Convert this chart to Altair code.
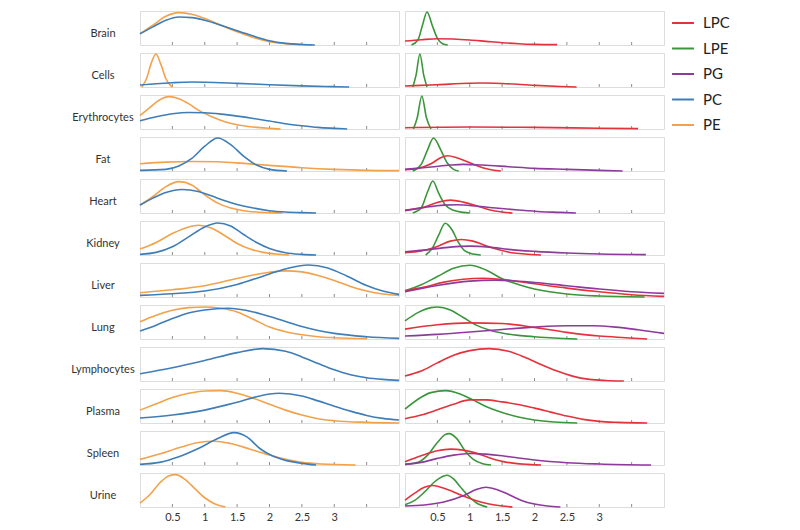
import altair as alt
import pandas as pd

tissues = ["Brain", "Cells", "Erythrocytes", "Fat", "Heart", "Kidney",
           "Liver", "Lung", "Lymphocytes", "Plasma", "Spleen", "Urine"]
lipids = ["LPC", "LPE", "PG", "PC", "PE"]
lipid_colors = ["#e3323c", "#3b963b", "#8e3a9c", "#3f7db8", "#f2a24a"]
tick_values = [0.5, 1, 1.5, 2, 2.5, 3, 3.5]

# ---- left column (PC / PE) : (x, relative density) ----
brain_pe = [(0, .34), (.2, .6), (.4, .87), (.6, .98), (.8, .93), (1.0, .8), (1.25, .6), (1.5, .4), (1.75, .23), (2.0, .1), (2.25, .04), (2.5, .01), (2.66, 0)]
brain_pc = [(0, .34), (.2, .55), (.4, .75), (.6, .85), (.8, .83), (1.0, .75), (1.25, .6), (1.5, .43), (1.75, .27), (2.0, .13), (2.25, .05), (2.5, .015), (2.7, 0)]
cells_pe = [(.03, 0), (.1, .25), (.17, .7), (.245, 1.0), (.32, .7), (.4, .25), (.47, .05), (.5, 0)]
cells_pc = [(0, .06), (.25, .1), (.5, .13), (.8, .15), (1.0, .145), (1.5, .11), (2.0, .07), (2.5, .035), (3.0, .01), (3.23, 0)]
ery_pe = [(0, .41), (.15, .65), (.3, .88), (.45, .98), (.6, .92), (.75, .77), (.9, .57), (1.1, .38), (1.3, .23), (1.5, .13), (1.75, .06), (2.0, .02), (2.17, 0)]
ery_pc = [(0, .25), (.25, .37), (.5, .46), (.75, .5), (1.0, .49), (1.25, .45), (1.5, .39), (1.75, .32), (2.0, .24), (2.25, .16), (2.5, .1), (2.75, .05), (3.0, .02), (3.2, 0)]
fat_pc = [(0, .02), (.4, .05), (.6, .15), (.8, .38), (1.0, .75), (1.2, 1.0), (1.4, .8), (1.6, .45), (1.8, .18), (2.0, .05), (2.27, 0)]
fat_pe = [(0, .22), (.4, .27), (.8, .29), (1.2, .28), (1.6, .23), (2.0, .17), (2.5, .1), (3.0, .05), (3.5, .02), (4.0, .01)]
heart_pe = [(0, .24), (.2, .5), (.4, .8), (.6, .95), (.8, .85), (1.0, .55), (1.2, .3), (1.4, .15), (1.6, .07), (1.8, .03), (2.0, .01), (2.2, 0)]
heart_pc = [(0, .24), (.2, .45), (.4, .62), (.65, .71), (.9, .65), (1.1, .52), (1.3, .38), (1.5, .26), (1.75, .15), (2.0, .07), (2.25, .03), (2.5, .01), (2.72, 0)]
kidney_pe = [(0, .18), (.25, .38), (.5, .65), (.75, .85), (.9, .9), (1.1, .82), (1.3, .6), (1.5, .35), (1.7, .18), (1.9, .08), (2.1, .03), (2.3, 0)]
kidney_pc = [(0, .02), (.25, .08), (.5, .25), (.75, .55), (1.0, .85), (1.2, .97), (1.4, .88), (1.6, .62), (1.8, .38), (2.0, .2), (2.25, .07), (2.5, .02), (2.72, 0)]
liver_pc = [(0, .05), (.5, .1), (1.0, .18), (1.5, .38), (2.0, .7), (2.3, .88), (2.6, .97), (2.9, .88), (3.2, .63), (3.5, .35), (3.75, .18), (4.0, .08)]
liver_pe = [(0, .13), (.5, .22), (1.0, .34), (1.5, .56), (2.0, .75), (2.25, .79), (2.5, .76), (2.75, .65), (3.0, .5), (3.25, .32), (3.5, .18), (3.75, .09), (4.0, .05)]
lung_pe = [(0, .52), (.25, .72), (.5, .87), (.75, .95), (1.0, .97), (1.25, .93), (1.5, .82), (1.75, .6), (2.0, .36), (2.25, .22), (2.5, .13), (2.75, .07), (3.0, .04), (3.5, .01)]
lung_pc = [(0, .24), (.25, .42), (.5, .62), (.75, .79), (1.0, .88), (1.35, .93), (1.75, .82), (2.0, .68), (2.25, .53), (2.5, .38), (2.75, .26), (3.0, .17), (3.5, .07), (4.0, .02)]
lymph_pc = [(0, .22), (.5, .4), (1.0, .62), (1.5, .86), (1.9, .98), (2.25, .9), (2.5, .73), (2.75, .53), (3.0, .34), (3.25, .19), (3.5, .1), (3.75, .05), (4.0, .02)]
plasma_pe = [(0, .39), (.25, .58), (.5, .77), (.75, .9), (1.0, .97), (1.25, .98), (1.5, .9), (1.75, .75), (2.0, .57), (2.25, .39), (2.5, .24), (2.75, .13), (3.0, .07), (3.5, .02), (4.0, 0)]
plasma_pc = [(0, .15), (.5, .24), (1.0, .39), (1.5, .63), (2.0, .88), (2.15, .9), (2.5, .82), (2.75, .67), (3.0, .51), (3.25, .36), (3.5, .23), (3.75, .14), (4.0, .09)]
spleen_pc = [(0, .02), (.3, .08), (.6, .25), (.9, .5), (1.2, .8), (1.45, .98), (1.65, .85), (1.85, .5), (2.05, .27), (2.25, .14), (2.5, .05), (2.72, 0)]
spleen_pe = [(0, .17), (.3, .33), (.6, .52), (.9, .68), (1.15, .72), (1.4, .65), (1.7, .48), (2.0, .3), (2.25, .17), (2.5, .08), (2.8, .03), (3.33, 0)]
urine_pe = [(0, .12), (.15, .37), (.3, .72), (.45, .95), (.55, .98), (.7, .83), (.85, .55), (1.0, .28), (1.15, .1), (1.32, 0)]

# ---- right column (LPC / LPE / PG) ----
brain_lpe = [(.1, 0), (.2, .15), (.27, .6), (.34, 1.0), (.42, .6), (.5, .2), (.58, .04), (.66, 0)]
brain_lpc = [(0, .12), (.25, .16), (.5, .19), (.75, .18), (1.0, .15), (1.25, .11), (1.5, .07), (1.75, .04), (2.0, .02), (2.35, .01)]
cells_lpe = [(.12, 0), (.17, .35), (.23, 1.0), (.29, .35), (.34, 0)]
cells_lpc = [(0, .03), (.5, .07), (1.0, .115), (1.2, .12), (1.5, .105), (2.0, .05), (2.4, .015), (2.65, 0)]
ery_lpe = [(.13, 0), (.19, .35), (.26, 1.0), (.33, .35), (.4, 0)]
ery_lpc = [(0, .04), (1.0, .06), (2.0, .05), (3.0, .025), (3.6, .01)]
fat_lpe = [(.12, 0), (.25, .2), (.35, .65), (.44, 1.0), (.55, .65), (.65, .25), (.75, .05), (.83, 0)]
fat_lpc = [(0, .04), (.2, .08), (.4, .22), (.55, .4), (.66, .46), (.8, .4), (1.0, .25), (1.2, .1), (1.35, .03), (1.48, 0)]
fat_pg = [(0, .05), (.4, .12), (.7, .18), (.9, .2), (1.2, .18), (1.6, .13), (2.0, .08), (2.5, .05), (3.0, .02), (3.36, 0)]
heart_lpe = [(.12, 0), (.25, .15), (.35, .65), (.43, .97), (.52, .6), (.62, .25), (.75, .08), (.9, .02), (1.0, 0)]
heart_lpc = [(0, .09), (.25, .15), (.5, .32), (.7, .39), (.9, .33), (1.1, .22), (1.3, .1), (1.5, .03), (1.66, 0)]
heart_pg = [(0, .07), (.3, .17), (.6, .24), (.8, .25), (1.1, .21), (1.4, .15), (1.75, .09), (2.1, .04), (2.4, .02), (2.64, 0)]
kidney_lpe = [(.32, 0), (.42, .2), (.52, .6), (.62, .96), (.72, .78), (.82, .4), (.92, .13), (1.05, .03), (1.17, 0)]
kidney_lpc = [(0, .07), (.25, .12), (.5, .26), (.7, .42), (.87, .47), (1.05, .42), (1.25, .28), (1.45, .16), (1.65, .07), (1.85, .03), (2.1, 0)]
kidney_pg = [(0, .1), (.4, .17), (.7, .24), (1.0, .27), (1.3, .24), (1.6, .17), (2.0, .11), (2.5, .06), (3.0, .03), (3.72, .01)]
liver_lpe = [(0, .19), (.25, .37), (.5, .62), (.75, .87), (1.0, .96), (1.25, .82), (1.5, .55), (1.75, .38), (2.0, .24), (2.5, .09), (3.0, .03), (3.7, 0)]
liver_lpc = [(0, .19), (.3, .3), (.6, .45), (.9, .54), (1.2, .57), (1.5, .53), (2.0, .4), (2.5, .27), (3.0, .16), (3.5, .07), (4.0, .02)]
liver_pg = [(0, .16), (.5, .35), (1.0, .48), (1.4, .51), (2.0, .44), (2.5, .34), (3.0, .24), (3.5, .16), (4.0, .11)]
lung_lpe = [(0, .55), (.2, .8), (.4, .95), (.5, .97), (.7, .88), (.9, .65), (1.1, .42), (1.3, .27), (1.5, .18), (1.75, .11), (2.0, .07), (2.3, .03), (2.66, 0)]
lung_lpc = [(0, .3), (.5, .43), (1.0, .49), (1.5, .47), (2.0, .35), (2.5, .2), (3.0, .09), (3.4, .04), (3.74, 0)]
lung_pg = [(0, .09), (.5, .14), (1.0, .21), (1.5, .29), (2.0, .36), (2.5, .4), (2.9, .4), (3.25, .36), (3.6, .28), (4.0, .17)]
lymph_lpc = [(0, .15), (.25, .3), (.5, .55), (.75, .78), (1.0, .92), (1.3, .98), (1.6, .9), (1.85, .72), (2.1, .5), (2.35, .3), (2.6, .14), (2.85, .05), (3.1, .015), (3.38, 0)]
plasma_lpe = [(0, .42), (.2, .72), (.4, .92), (.63, .98), (.85, .88), (1.05, .7), (1.25, .5), (1.5, .32), (1.75, .18), (2.0, .09), (2.3, .03), (2.66, 0)]
plasma_lpc = [(0, .13), (.25, .24), (.5, .4), (.75, .57), (1.0, .7), (1.25, .7), (1.5, .64), (1.75, .56), (2.0, .45), (2.25, .33), (2.5, .21), (2.75, .11), (3.0, .05), (3.3, .02), (3.74, 0)]
spleen_lpe = [(0, .02), (.2, .08), (.35, .3), (.5, .68), (.62, .92), (.68, .95), (.8, .8), (.92, .45), (1.05, .18), (1.2, .04), (1.33, 0)]
spleen_lpc = [(0, .1), (.25, .28), (.5, .43), (.7, .48), (.9, .45), (1.1, .36), (1.3, .22), (1.5, .11), (1.7, .05), (1.9, .02), (2.1, 0)]
spleen_pg = [(0, .02), (.25, .08), (.5, .2), (.75, .3), (1.0, .35), (1.25, .33), (1.5, .28), (1.75, .21), (2.0, .15), (2.5, .07), (3.0, .03), (3.8, 0)]
urine_lpe = [(0, .07), (.15, .2), (.3, .45), (.45, .75), (.6, .94), (.65, .96), (.75, .85), (.85, .62), (.97, .35), (1.1, .13), (1.27, 0)]
urine_lpc = [(0, .21), (.15, .42), (.3, .6), (.42, .65), (.55, .6), (.7, .5), (.9, .33), (1.1, .19), (1.3, .09), (1.5, .03), (1.66, 0)]
urine_pg = [(0, .03), (.3, .06), (.6, .15), (.9, .34), (1.1, .53), (1.25, .6), (1.4, .54), (1.6, .38), (1.8, .2), (2.0, .09), (2.2, .03), (2.4, 0)]

curves = [
    ("Brain", "PE", brain_pe), ("Brain", "PC", brain_pc), ("Brain", "LPE", brain_lpe), ("Brain", "LPC", brain_lpc),
    ("Cells", "PE", cells_pe), ("Cells", "PC", cells_pc), ("Cells", "LPE", cells_lpe), ("Cells", "LPC", cells_lpc),
    ("Erythrocytes", "PE", ery_pe), ("Erythrocytes", "PC", ery_pc), ("Erythrocytes", "LPE", ery_lpe), ("Erythrocytes", "LPC", ery_lpc),
    ("Fat", "PE", fat_pe), ("Fat", "PC", fat_pc), ("Fat", "LPE", fat_lpe), ("Fat", "LPC", fat_lpc), ("Fat", "PG", fat_pg),
    ("Heart", "PE", heart_pe), ("Heart", "PC", heart_pc), ("Heart", "LPE", heart_lpe), ("Heart", "LPC", heart_lpc), ("Heart", "PG", heart_pg),
    ("Kidney", "PE", kidney_pe), ("Kidney", "PC", kidney_pc), ("Kidney", "LPE", kidney_lpe), ("Kidney", "LPC", kidney_lpc), ("Kidney", "PG", kidney_pg),
    ("Liver", "PE", liver_pe), ("Liver", "PC", liver_pc), ("Liver", "LPE", liver_lpe), ("Liver", "LPC", liver_lpc), ("Liver", "PG", liver_pg),
    ("Lung", "PE", lung_pe), ("Lung", "PC", lung_pc), ("Lung", "LPE", lung_lpe), ("Lung", "LPC", lung_lpc), ("Lung", "PG", lung_pg),
    ("Lymphocytes", "PC", lymph_pc), ("Lymphocytes", "LPC", lymph_lpc),
    ("Plasma", "PE", plasma_pe), ("Plasma", "PC", plasma_pc), ("Plasma", "LPE", plasma_lpe), ("Plasma", "LPC", plasma_lpc),
    ("Spleen", "PE", spleen_pe), ("Spleen", "PC", spleen_pc), ("Spleen", "LPE", spleen_lpe), ("Spleen", "LPC", spleen_lpc), ("Spleen", "PG", spleen_pg),
    ("Urine", "PE", urine_pe), ("Urine", "LPE", urine_lpe), ("Urine", "LPC", urine_lpc), ("Urine", "PG", urine_pg),
]

rows = []
for tissue, lipid, pts in curves:
    side = "A" if lipid in ("PC", "PE") else "B"
    for x, y in pts:
        rows.append({"tissue": tissue, "side": side, "lipid": lipid, "x": x, "y": y, "kind": "curve"})
for tissue in tissues:
    rows.append({"tissue": tissue, "side": "A", "lipid": None, "x": 0, "y": 0, "kind": "label"})
    for side in ("A", "B"):
        for t in tick_values:
            rows.append({"tissue": tissue, "side": side, "lipid": None, "x": t, "y": 0, "kind": "tick"})
df = pd.DataFrame(rows)

FONT = "Lato"

xscale = alt.Scale(domain=[0, 4], nice=False, zero=False)
xaxis = alt.Axis(values=tick_values,
                 labelExpr="datum.value > 3.2 ? '' : format(datum.value, '~g')",
                 ticks=False, domain=False, grid=False, title=None,
                 labelFont=FONT, labelFontSize=11, labelColor="#333333", labelPadding=4)

lines = alt.Chart().mark_line(strokeWidth=1.6, interpolate="monotone").encode(
    x=alt.X("x:Q", scale=xscale, axis=xaxis),
    y=alt.Y("y:Q", scale=alt.Scale(domain=[0, 1.03], nice=False), axis=None),
    color=alt.Color("lipid:N", scale=alt.Scale(domain=lipids, range=lipid_colors),
                    legend=alt.Legend(orient="none", legendX=531, legendY=0, title=None,
                                      symbolType="stroke", symbolSize=480, symbolStrokeWidth=2,
                                      labelFont=FONT, labelFontSize=15, labelColor="#222222",
                                      rowPadding=5.5, labelOffset=8)),
    order="x:Q",
).transform_filter(alt.datum.kind == "curve")

ticks = alt.Chart().mark_rule(color="#8c8c8c", strokeWidth=1).encode(
    x=alt.X("x:Q", scale=xscale, axis=xaxis),
    y=alt.value(34),
    y2=alt.value(31),
).transform_filter(alt.datum.kind == "tick")

labels = alt.Chart().mark_text(align="center", baseline="middle", font=FONT, fontSize=11,
                               color="#333333").encode(
    x=alt.value(-37),
    y=alt.value(23),
    text="tissue:N",
).transform_filter(alt.datum.kind == "label")

chart = alt.layer(ticks, lines, labels, data=df).properties(width=259, height=34).facet(
    row=alt.Row("tissue:N", sort=tissues, header=alt.Header(title=None, labels=False)),
    column=alt.Column("side:N", sort=["A", "B"], header=alt.Header(title=None, labels=False)),
    spacing={"row": 8, "column": 6},
    bounds="flush",
).properties(
    padding={"left": 62, "top": 0, "right": 5, "bottom": 5}
).configure_view(
    stroke="#8c8c8c", strokeWidth=1.5
).configure_facet(spacing=8).configure(background="white")

chart.save("out.html", embed_options={"renderer": "svg", "actions": False})
